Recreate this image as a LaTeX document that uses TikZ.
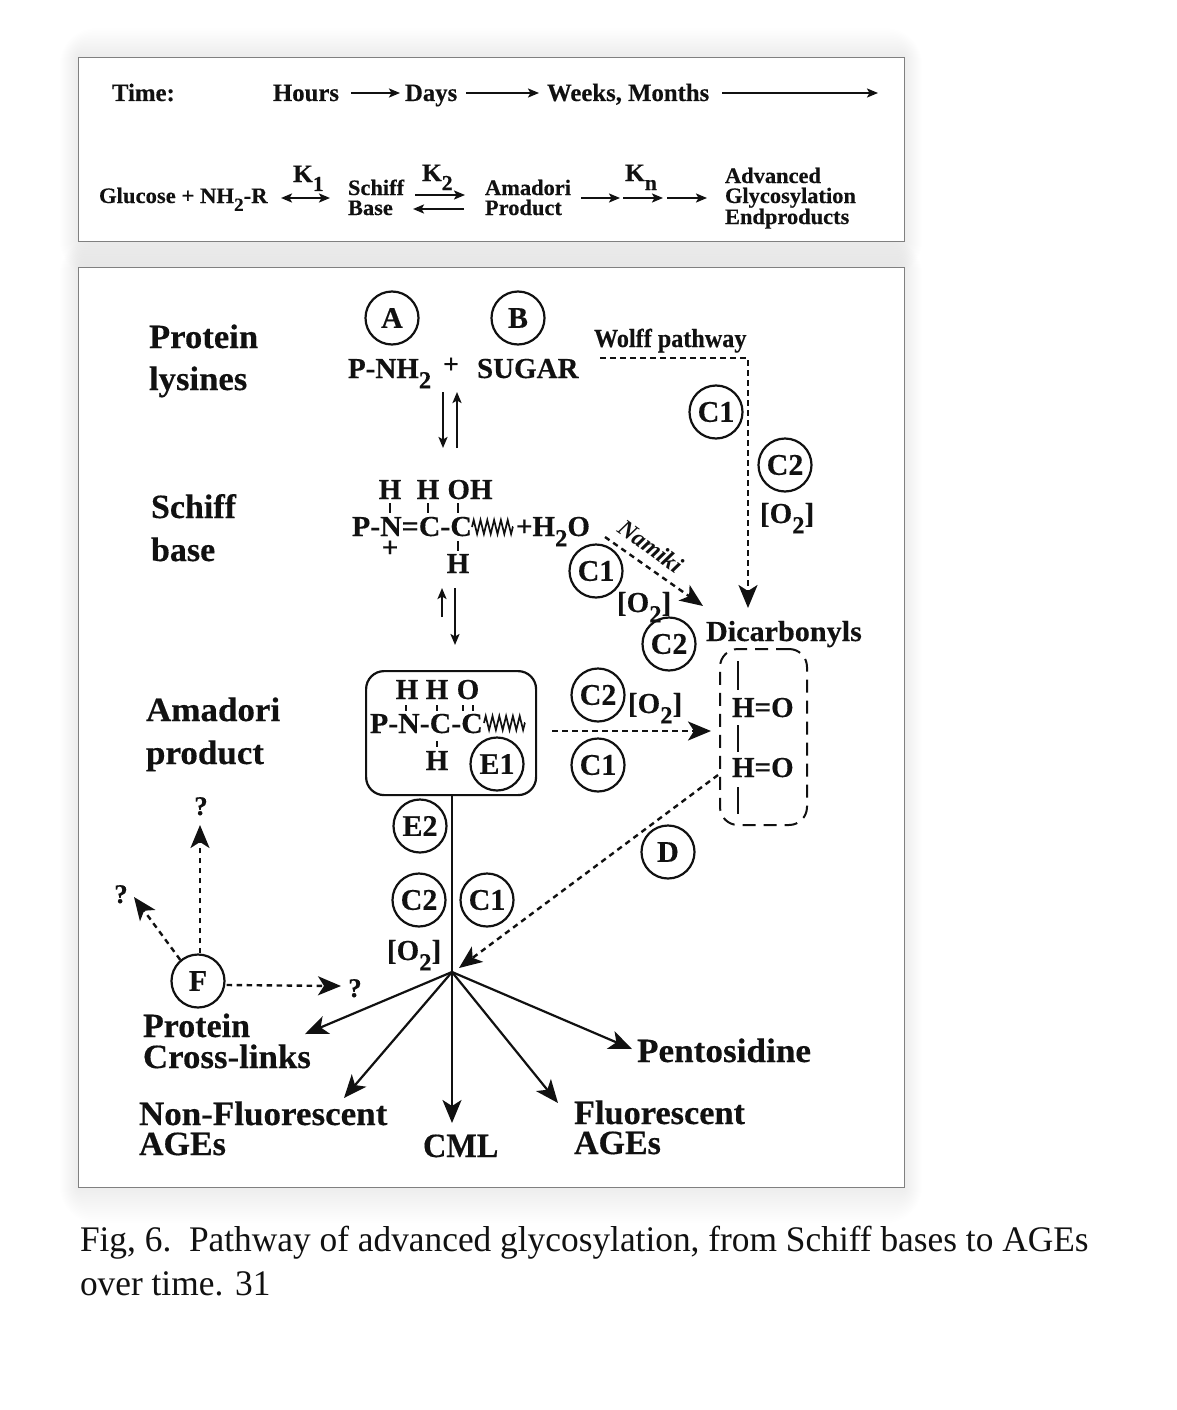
\documentclass[tikz,border=0pt]{standalone}
\usepackage{fontspec}
\setmainfont{Liberation Serif}[BoldFeatures={FakeBold=0.35}]
\usetikzlibrary{arrows.meta,decorations.pathmorphing,calc}
\newcommand\fsz[1]{\fontsize{#1}{#1}\selectfont}
\newcommand\sbs[1]{\raisebox{-.36em}{\scalebox{.85}{#1}}}
\definecolor{ink}{HTML}{111111}
\tikzset{
  lbl/.style={anchor=base west,inner sep=0pt,outer sep=0pt,text=ink},
  clbl/.style={anchor=base,inner sep=0pt,outer sep=0pt,text=ink},
  hd/.style={lbl,font=\bfseries\fsz{34}},
  med/.style={lbl,font=\bfseries\fsz{29}},
  cmed/.style={clbl,font=\bfseries\fsz{29}},
  sm/.style={lbl,font=\bfseries\fsz{22},xscale=1.02},
  tm/.style={lbl,font=\bfseries\fsz{25},xscale=.99},
  circ/.style={circle,draw=ink,line width=2.2pt,minimum size=53pt,inner sep=0pt,font=\bfseries\fsz{30},text=ink},
  panel/.style={draw=black!50,line width=1pt,fill=white},
  tip/.style={-{Stealth[length=23pt,width=19pt,inset=6pt]}},
  thin tip/.style={-{Stealth[length=11pt,width=9pt,inset=2.5pt]}},
  solid line/.style={draw=ink,line width=2.2pt},
  dash line/.style={draw=ink,line width=2.4pt,dash pattern=on 5.5pt off 4.5pt},
  tick/.style={draw=ink,line width=1.8pt},
  wig/.style={draw=ink,line width=1.7pt,decorate,decoration={zigzag,segment length=6.8pt,amplitude=7pt}},
}
\begin{document}
\begin{tikzpicture}[x=1pt,y=-1pt]
\useasboundingbox (0,0) rectangle (1176,1410);
\fill[white] (0,0) rectangle (1176,1410);
% soft shadows
\foreach \g in {36,34,...,2}{
  \fill[black,opacity=.004,rounded corners=\g pt] (78-\g*.5,57-\g*.8) rectangle (904+\g*.5,241+\g);
  \fill[black,opacity=.004,rounded corners=\g pt] (78-\g*.5,267-\g*.8) rectangle (904+\g*.5,1187+\g);
}
\node[panel,minimum width=826pt,minimum height=184pt,inner sep=0pt,anchor=north west] (top) at (78,57) {};
\node[panel,minimum width=826pt,minimum height=920pt,inner sep=0pt,anchor=north west] (main) at (78,267) {};

% time row
\node[tm] (time) at (112,101) {Time:};
\node[tm] (hours) at (273,101) {Hours};
\node[tm] (days) at (405,101) {Days};
\node[tm] (weeks) at (547,101) {Weeks, Months};
\coordinate (t1) at (351,93); \coordinate (t2) at (400,93);
\coordinate (t3) at (466,93); \coordinate (t4) at (539,93);
\coordinate (t5) at (722,93); \coordinate (t6) at (878,93);
\draw[solid line,thin tip] (t1) -- (t2);
\draw[solid line,thin tip] (t3) -- (t4);
\draw[solid line,thin tip] (t5) -- (t6);

% reaction row
\node[sm,xscale=1.01] (gluc) at (99,203) {Glucose + NH\sbs{2}-R};
\node[sm] (k1) at (293,182) {\fsz{25}K\sbs{1}};
\node[sm] (schiffa) at (348,195) {Schiff};
\node[sm] (schiffb) at (348,215) {Base};
\node[sm] (k2) at (422,181) {\fsz{25}K\sbs{2}};
\node[sm] (amaa) at (485,195) {Amadori};
\node[sm] (amab) at (485,215) {Product};
\node[sm] (kn) at (625,181) {\fsz{25}K\sbs{n}};
\node[sm] (adv) at (725,183) {Advanced};
\node[sm] (gly) at (725,203) {Glycosylation};
\node[sm] (endp) at (725,224) {Endproducts};
\coordinate (r1) at (281,198); \coordinate (r2) at (330,198);
\coordinate (r3) at (415,195); \coordinate (r4) at (465,195);
\coordinate (r5) at (464,209); \coordinate (r6) at (413,209);
\coordinate (r7) at (581,198); \coordinate (r8) at (620,198);
\coordinate (r9) at (623,198); \coordinate (r10) at (663,198);
\coordinate (r11) at (667,198); \coordinate (r12) at (707,198);
\draw[solid line,{Stealth[length=11pt,width=9pt,inset=2.5pt]}-{Stealth[length=11pt,width=9pt,inset=2.5pt]}] (r1) -- (r2);
\draw[solid line,thin tip] (r3) -- (r4);
\draw[solid line,thin tip] (r5) -- (r6);
\draw[solid line,thin tip] (r7) -- (r8);
\draw[solid line,thin tip] (r9) -- (r10);
\draw[solid line,thin tip] (r11) -- (r12);

% row labels
\node[hd,xscale=1.02] (pl1) at (149,348) {Protein};
\node[hd,xscale=1.02] (pl2) at (149,390) {lysines};
\node[hd] (sb1) at (151,518) {Schiff};
\node[hd] (sb2) at (151,561) {base};
\node[hd,xscale=1.03] (ap1) at (146,721) {Amadori};
\node[hd,xscale=1.03] (ap2) at (146,764) {product};

% top of pathway
\node[circ] (A) at (392,318) {A};
\node[circ] (B) at (518,318) {B};
\node[med] (pnh) at (348,378) {P-NH\sbs{2}};
\node[clbl,font=\bfseries\fsz{27}] (plus) at (451,373) {+};
\node[med] (sugar) at (477,378) {SUGAR};
\node[lbl,font=\bfseries\fsz{26},xscale=.93] (wolff) at (594,347) {Wolff pathway};
\node[circ] (C1a) at (716,412) {C1};
\node[circ] (C2a) at (785,465) {C2};
\node[med] (O2a) at (760,523) {[O\sbs{2}]};
\node[med,xscale=1.04] (dicarb) at (706,641) {Dicarbonyls};
\coordinate (w1) at (600,358); \coordinate (w2) at (748,358); \coordinate (w3) at (748,608);
\draw[dash line,tip] (w1) -- (w2) -- (w3);
\coordinate (e1) at (443,392); \coordinate (e2) at (443,448);
\coordinate (e3) at (457,448); \coordinate (e4) at (457,392);
\draw[solid line,thin tip] (e1) -- (e2);
\draw[solid line,thin tip] (e3) -- (e4);

% Schiff base structure
\node[cmed] (sh1) at (390,499) {H};
\node[cmed] (sh2) at (428,499) {H};
\node[cmed] (soh) at (470,499) {OH};
\node[med,xscale=1.03] (schain) at (352,536) {P-N=C-C};
\node[cmed] (splus) at (390,557) {+};
\node[cmed] (sh3) at (458,573) {H};
\node[med] (sh2o) at (516,536) {+H\sbs{2}O};
\draw[tick] (390,503) -- (390,513);
\draw[tick] (428,503) -- (428,513);
\draw[tick] (458,503) -- (458,513);
\draw[tick] (458,541) -- (458,551);
\coordinate (z1) at (472,527); \coordinate (z2) at (513,527);
\draw[wig] (z1) -- (z2);
\node[lbl,anchor=center,rotate=-36,font=\bfseries\itshape\fsz{24}] (namiki) at (651,546) {Namiki};
\node[circ] (C1b) at (596,571) {C1};
\node[med] (O2b) at (617,612) {[O\sbs{2}]};
\node[circ] (C2b) at (669,644) {C2};
\coordinate (n1) at (605,537); \coordinate (n2) at (703,606);
\draw[dash line,tip] (n1) -- (n2);
\coordinate (u1) at (442,617); \coordinate (u2) at (442,588);
\coordinate (u3) at (455,588); \coordinate (u4) at (455,645);
\draw[solid line,thin tip] (u1) -- (u2);
\draw[solid line,thin tip] (u3) -- (u4);

% Amadori box
\node[draw=ink,line width=2.2pt,rounded corners=18pt,minimum width=170pt,minimum height=124pt,inner sep=0pt,anchor=north west] (ama) at (365,670) {};
\node[cmed] (ah1) at (407,699) {H};
\node[cmed] (ah2) at (437,699) {H};
\node[cmed] (ao) at (468,699) {O};
\node[med,xscale=1.03] (achain) at (370,733) {P-N-C-C};
\node[cmed] (ah3) at (437,770) {H};
\draw[tick] (406,705) -- (406,711);
\draw[tick] (437,705) -- (437,711);
\draw[tick] (463,705) -- (463,711);
\draw[tick] (473,705) -- (473,711);
\draw[tick] (437,741) -- (437,747);
\coordinate (z3) at (484,723); \coordinate (z4) at (525,723);
\draw[wig] (z3) -- (z4);
\node[circ] (E1) at (497,764) {E1};
\node[circ] (C2c) at (598,695) {C2};
\node[med] (O2c) at (628,713) {[O\sbs{2}]};
\node[circ] (C1c) at (598,765) {C1};
\coordinate (a1) at (552,731); \coordinate (a2) at (711,731);
\draw[dash line,tip] (a1) -- (a2);

% Dicarbonyl box
\node[draw=ink,line width=2pt,dash pattern=on 13pt off 8pt,rounded corners=18pt,minimum width=87pt,minimum height=176pt,inner sep=0pt,anchor=north west] (dbox) at (719,648) {};
\node[med] (ho1) at (732,717) {H=O};
\node[med] (ho2) at (732,777) {H=O};
\draw[tick,line width=2.2pt] (738,661) -- (738,690);
\draw[tick,line width=2.2pt] (738,725) -- (738,752);
\draw[tick,line width=2.2pt] (738,787) -- (738,814);

% lower pathway
\coordinate (hub) at (452,972);
\node[circ] (E2) at (420,826) {E2};
\node[circ] (C2d) at (419,900) {C2};
\node[circ] (C1d) at (487,900) {C1};
\node[med] (O2d) at (387,960) {[O\sbs{2}]};
\node[circ] (D) at (668,852) {D};
\coordinate (d1) at (718,775); \coordinate (d2) at (459,968);
\draw[dash line,tip] (d1) -- (d2);
\draw[solid line] (ama.south -| hub) -- (hub);
\coordinate (p1) at (305,1034); \coordinate (p2) at (344,1098);
\coordinate (p3) at (452,1123); \coordinate (p4) at (558,1103);
\coordinate (p5) at (632,1049);
\foreach \p in {p1,p2,p3,p4,p5}{\draw[solid line,tip] (hub) -- (\p);}

% F
\node[circ] (F) at (198,981) {F};
\node[clbl,font=\bfseries\fsz{27}] (q1) at (201,815) {?};
\node[clbl,font=\bfseries\fsz{27}] (q2) at (121,903) {?};
\node[clbl,font=\bfseries\fsz{27}] (q3) at (355,997) {?};
\coordinate (f1) at (200,825); \coordinate (f2) at (134,897); \coordinate (f3) at (341,986);
\coordinate (f0) at ($(F.east)+(1,4)$);
\draw[dash line,tip] (F.north -| f1) -- (f1);
\draw[dash line,tip] (F.130) -- (f2);
\draw[dash line,tip] (f0) -- (f3);

% products
\node[hd] (pc1) at (143,1037) {Protein};
\node[hd,xscale=1.025] (pc2) at (143,1068) {Cross-links};
\node[hd,xscale=1.03] (nf1) at (139,1125) {Non-Fluorescent};
\node[hd] (nf2) at (139,1155) {AGEs};
\node[hd,xscale=.95] (cml) at (423,1157) {CML};
\node[hd,xscale=1.01] (fl1) at (574,1124) {Fluorescent};
\node[hd] (fl2) at (574,1154) {AGEs};
\node[hd,xscale=1.035] (pent) at (637,1062) {Pentosidine};

% caption
\node[lbl,font=\fsz{36},xscale=.982] (cap1) at (80,1251) {Fig, 6.\ \ Pathway of advanced glycosylation, from Schiff bases to AGEs};
\node[lbl,font=\fsz{36},xscale=.982] (cap2) at (80,1295) {over time. 31};
\end{tikzpicture}
\end{document}
